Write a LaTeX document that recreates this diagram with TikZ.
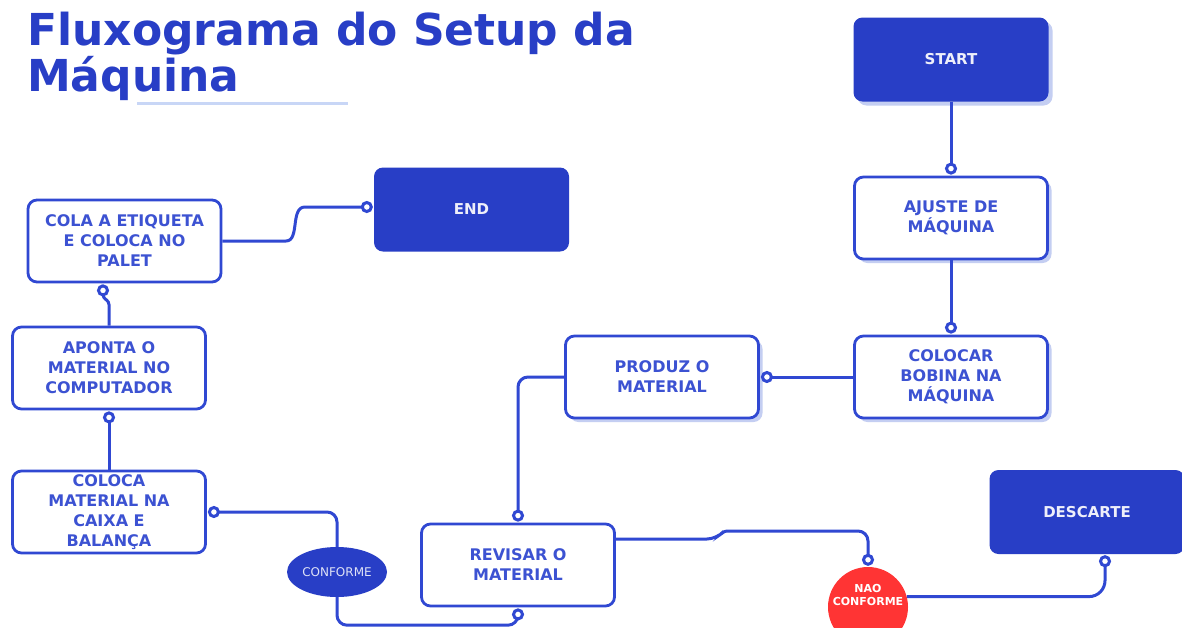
\documentclass[tikz,border=0pt]{standalone}
\usepackage{fontspec}
\setmainfont{DejaVu Sans}
\usetikzlibrary{arrows.meta,shapes.geometric,shadows}

\definecolor{azul}{RGB}{40,62,198}
\definecolor{azullinha}{RGB}{48,72,210}
\definecolor{azultexto}{RGB}{60,82,210}
\definecolor{sombra}{RGB}{196,206,242}
\definecolor{vermelho}{RGB}{255,52,52}
\definecolor{sublinhado}{RGB}{200,214,246}

\begin{document}
\begin{tikzpicture}[x=1pt,y=-1pt,
		caixa/.style={draw=azullinha, line width=2.8pt, fill=white, rounded corners=9pt, minimum width=193pt, minimum height=82pt, align=center, text=azultexto, font=\bfseries\fontsize{16}{20}\selectfont},
		sombreada/.style={drop shadow={shadow xshift=4pt, shadow yshift=-4pt, fill=sombra, opacity=1}},
		cheia/.style={fill=azul, rounded corners=9pt, minimum width=195pt, minimum height=84pt, text=white!92!azul, font=\bfseries\fontsize{15}{19}\selectfont},
		ligacao/.style={draw=azullinha, line width=3pt, rounded corners=10pt, -{Circle[fill=white,length=12pt,width=12pt]}, shorten >=1pt}]
		\path[use as bounding box, fill=white] (0,0) rectangle (1182,627);
		% titulo
		\node[anchor=north west, inner sep=0pt, align=left, text=azul, font=\bfseries\fontsize{44}{43}\selectfont] (titulo) at (27,12) {Fluxograma do Setup da\\Máquina};
		\draw[sublinhado, line width=3pt] (137,103) -- (348,103);
		% caixas
		\node[cheia, sombreada] (start) at (951,59.5) {START};
		\node[caixa, sombreada] (ajuste) at (951,218) {AJUSTE DE\\MÁQUINA};
		\node[caixa, sombreada] (colocar) at (951,377) {COLOCAR\\BOBINA NA\\MÁQUINA};
		\node[caixa, sombreada] (produz) at (662,377) {PRODUZ O\\MATERIAL};
		\node[caixa] (revisar) at (518,565) {REVISAR O\\MATERIAL};
		\node[cheia] (descarte) at (1087,512) {DESCARTE};
		\node[cheia] (fim) at (471.5,209.5) {END};
		\node[caixa] (cola) at (124.5,241) {COLA A ETIQUETA\\E COLOCA NO\\PALET};
		\node[caixa] (aponta) at (109,368) {APONTA O\\MATERIAL NO\\COMPUTADOR};
		\node[caixa] (coloca) at (109,512) {COLOCA\\MATERIAL NA\\CAIXA E\\BALANÇA};
		\node[ellipse, fill=azul, minimum width=100pt, minimum height=50pt, inner sep=0pt, text=white!85!azul, font=\fontsize{12}{12}\selectfont] (conforme) at (337,572) {CONFORME};
		\node[circle, fill=vermelho, minimum size=80pt, inner sep=0pt,
			label={[yshift=12pt, align=center, text=white, font=\bfseries\fontsize{11}{13}\selectfont]center:NAO\\CONFORME}] (naoconf) at (868,607) {};
		% ligacoes
		\draw[ligacao] (start) -- (ajuste);
		\draw[ligacao] (ajuste) -- (colocar);
		\draw[ligacao] (colocar) -- (produz);
		\draw[ligacao] (produz.west) -| (revisar.north);
		\draw[ligacao] ([yshift=26pt]revisar.east) -- (717,539) [rounded corners=3pt] -- (724,531) [rounded corners=10pt] -| (naoconf.north);
		\draw[ligacao, rounded corners=16pt] (naoconf.15) -| ([xshift=18pt]descarte.south);
		\draw[ligacao] (conforme.south) -- ++(0,28) -| (revisar.south);
		\draw[ligacao] (conforme.north) |- (coloca.east);
		\draw[ligacao] (coloca) -- (aponta);
		\draw[ligacao, rounded corners=3pt] (aponta.north) -- ++(0,-24) -- ++(-6,-4) -- ([xshift=-21.5pt]cola.south);
		\draw[ligacao] (cola.east) -- (276,241) .. controls (300,241) and (290,207) .. (315,207) -- ([yshift=2.5pt]fim.west);
	\end{tikzpicture}
\end{document}
